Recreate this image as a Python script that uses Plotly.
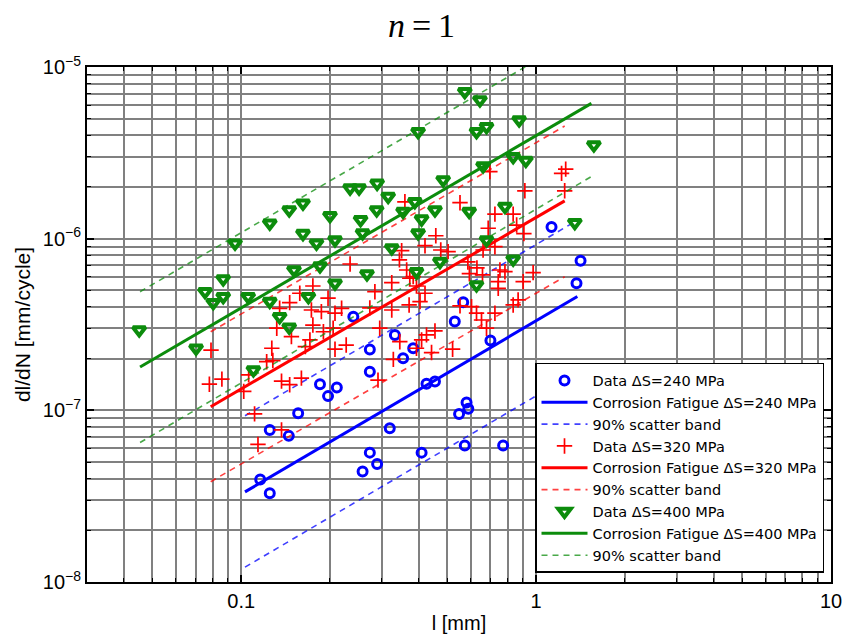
import plotly.graph_objects as go

# Measured crack growth data, crack length l [mm] vs dl/dN [mm/cycle]
l_240 = [0.116, 0.125, 0.125, 0.145, 0.156, 0.185, 0.197, 0.211, 0.240, 0.273,
         0.273, 0.273, 0.258, 0.289, 0.332, 0.383, 0.354, 0.425, 0.454, 0.319,
         0.409, 0.573, 0.773, 0.581, 0.548, 0.589, 0.566, 0.530, 0.700, 1.371,
         1.415, 1.128]
dldn_240 = [3.96e-8, 3.29e-8, 7.69e-8, 7.10e-8, 9.62e-8, 1.42e-7, 1.21e-7, 1.36e-7, 3.51e-7, 2.26e-7,
            1.68e-7, 5.67e-8, 4.40e-8, 4.87e-8, 2.75e-7, 2.30e-7, 2.01e-7, 1.43e-7, 1.47e-7, 7.87e-8,
            5.67e-8, 6.23e-8, 6.23e-8, 1.11e-7, 9.53e-8, 1.02e-7, 4.26e-7, 3.29e-7, 2.55e-7, 5.50e-7,
            7.44e-7, 1.17e-6]

l_320 = [0.175, 0.158, 0.197, 0.146, 0.135, 0.173, 0.187, 0.208, 0.219, 0.132,
         0.148, 0.175, 0.190, 0.205, 0.171, 0.165, 0.208, 0.227, 0.127, 0.079,
         0.122, 0.128, 0.106, 0.086, 0.078, 0.102, 0.137, 0.146, 0.160, 0.111,
         0.137, 0.114, 0.234, 0.324, 0.373, 0.393, 0.420, 0.404, 0.371, 0.324,
         0.284, 0.295, 0.345, 0.328, 0.291, 0.409, 0.425, 0.454, 0.442, 0.393,
         0.521, 0.552, 0.604, 0.628, 0.653, 0.679, 0.725, 0.836, 0.869, 0.744,
         0.744, 0.904, 0.977, 0.784, 0.273, 0.697, 1.22, 1.26, 1.25, 0.916,
         0.359, 0.552, 0.725, 0.836, 0.688, 0.859, 0.909, 0.457, 0.725, 0.420,
         0.475, 0.503, 0.350, 0.344, 0.661, 0.587, 0.630, 0.658, 0.594, 0.754,
         0.364, 0.383]
dldn_320 = [5.30e-7, 4.81e-7, 4.50e-7, 4.24e-7, 3.93e-7, 3.84e-7, 3.76e-7, 3.68e-7, 3.93e-7, 3.01e-7,
            2.69e-7, 3.14e-7, 2.87e-7, 3.01e-7, 2.57e-7, 2.35e-7, 2.27e-7, 2.40e-7, 2.30e-7, 2.24e-7,
            1.92e-7, 1.95e-7, 1.61e-7, 1.52e-7, 1.42e-7, 1.29e-7, 1.48e-7, 1.41e-7, 1.54e-7, 9.53e-8,
            7.69e-8, 6.33e-8, 7.12e-7, 5.54e-7, 5.88e-7, 5.30e-7, 4.81e-7, 4.30e-7, 4.11e-7, 3.84e-7,
            4.91e-7, 3.01e-7, 2.51e-7, 1.98e-7, 1.50e-7, 2.57e-7, 2.75e-7, 2.90e-7, 2.17e-7, 2.30e-7,
            2.27e-7, 4.06e-7, 4.02e-7, 3.68e-7, 3.36e-7, 3.01e-7, 3.68e-7, 4.11e-7, 4.40e-7, 5.14e-7,
            5.62e-7, 5.62e-7, 6.34e-7, 6.42e-7, 3.95e-7, 2.46e-6, 2.40e-6, 2.54e-6, 1.90e-6, 1.90e-6,
            1.64e-6, 1.62e-6, 1.39e-6, 1.39e-6, 1.15e-6, 1.20e-6, 1.07e-6, 1.04e-6, 8.98e-7, 9.10e-7,
            8.59e-7, 8.40e-7, 8.51e-7, 7.52e-7, 8.59e-7, 7.32e-7, 6.75e-7, 6.15e-7, 6.25e-7, 6.57e-7,
            6.57e-7, 6.01e-7]

l_400 = [0.0451, 0.0703, 0.110, 0.0754, 0.0804, 0.0869, 0.0869, 0.1056, 0.125, 0.135,
         0.1455, 0.169, 0.208, 0.151, 0.185, 0.267, 0.0953, 0.125, 0.1455, 0.162,
         0.200, 0.234, 0.251, 0.254, 0.162, 0.180, 0.208, 0.258, 0.573, 0.645,
         0.876, 0.628, 0.679, 0.398, 1.57, 0.836, 0.923, 0.661, 0.484, 0.289,
         0.315, 0.388, 0.354, 0.288, 0.454, 0.409, 0.593, 0.784, 0.398, 0.679,
         1.353, 0.324, 0.472, 0.836, 0.393, 0.628]
dldn_400 = [2.94e-7, 2.30e-7, 1.72e-7, 4.91e-7, 4.24e-7, 4.59e-7, 5.82e-7, 4.59e-7, 4.30e-7, 3.51e-7,
            3.05e-7, 4.59e-7, 5.50e-7, 6.57e-7, 6.93e-7, 6.23e-7, 9.40e-7, 1.23e-6, 1.47e-6, 1.61e-6,
            1.36e-6, 1.97e-6, 1.97e-6, 1.29e-6, 1.07e-6, 9.40e-7, 9.83e-7, 1.08e-6, 7.18e-6, 6.42e-6,
            4.91e-6, 4.20e-6, 4.49e-6, 4.20e-6, 3.51e-6, 3.00e-6, 2.85e-6, 2.65e-6, 2.20e-6, 2.10e-6,
            1.76e-6, 1.64e-6, 1.44e-6, 1.47e-6, 1.47e-6, 1.30e-6, 1.44e-6, 1.54e-6, 1.08e-6, 9.83e-7,
            1.24e-6, 8.83e-7, 7.35e-7, 7.59e-7, 6.42e-7, 5.37e-7]

# Corrosion fatigue model lines (end points) and 90% scatter band limits
fit_l_240 = [0.103, 1.38]
fit_240 = [3.35e-8, 4.60e-7]
band_hi_240 = [9.30e-8, 1.28e-6]
band_lo_240 = [1.22e-8, 1.68e-7]

fit_l_320 = [0.0788, 1.25]
fit_320 = [1.05e-7, 1.66e-6]
band_hi_320 = [2.87e-7, 4.53e-6]
band_lo_320 = [3.84e-8, 6.00e-7]

fit_l_400 = [0.0454, 1.54]
fit_400 = [1.79e-7, 6.14e-6]
band_hi_400 = [4.91e-7, 1.68e-5]
band_lo_400 = [6.49e-8, 2.30e-6]

stress_levels = ["240", "320", "400"]

x_tick_vals = [0.1, 1, 10]
x_tick_text = ["0.1", "1", "10"]
y_tick_vals = [1e-8, 1e-7, 1e-6, 1e-5]
y_tick_text = ["10<sup>\u22128</sup>", "10<sup>\u22127</sup>", "10<sup>\u22126</sup>", "10<sup>\u22125</sup>"]

BLUE = "#0000ff"
RED = "#ff0000"
GREEN = "#0c8c0c"

groups = [
    (stress_levels[0], l_240, dldn_240, fit_l_240, fit_240, band_hi_240, band_lo_240, BLUE,
     dict(symbol="circle-open", size=9, line=dict(width=3, color=BLUE))),
    (stress_levels[1], l_320, dldn_320, fit_l_320, fit_320, band_hi_320, band_lo_320, RED,
     dict(symbol="cross-thin-open", size=11, line=dict(width=1.7, color=RED))),
    (stress_levels[2], l_400, dldn_400, fit_l_400, fit_400, band_hi_400, band_lo_400, GREEN,
     dict(symbol="triangle-down-open", size=11, line=dict(width=4, color=GREEN))),
]

fig = go.Figure()
for ds, lx, ly, fx, fy, bhi, blo, col, mk in groups:
    fig.add_trace(go.Scatter(
        x=lx, y=ly, mode="markers", marker=dict(color=col, **mk),
        name=f"Data \u0394S={ds} MPa"))
    fig.add_trace(go.Scatter(
        x=fx, y=fy, mode="lines", line=dict(color=col, width=3),
        name=f"Corrosion Fatigue \u0394S={ds} MPa"))
    fig.add_trace(go.Scatter(
        x=fx + [None] + fx, y=bhi + [None] + blo, mode="lines",
        line=dict(color=col, width=1.6, dash="6px,5px"),
        opacity=0.75, connectgaps=False,
        name="90% scatter band"))

grid_col = "#808080"
axis_common = dict(
    type="log", showline=True, linecolor="black", linewidth=2, mirror="allticks",
    ticks="inside", ticklen=7, tickwidth=1.5, tickcolor="black",
    showgrid=True, gridcolor=grid_col, gridwidth=1.8,
    tickfont=dict(family="Liberation Sans, Arial, sans-serif", size=20, color="black"),
    minor=dict(dtick="D1", showgrid=True, gridcolor=grid_col, gridwidth=1.8,
               ticks="inside", ticklen=4, tickwidth=1.2, tickcolor="black"),
    zeroline=False, automargin=False,
)

fig.update_layout(
    width=843, height=634,
    margin=dict(l=87, r=12, t=67, b=52),
    paper_bgcolor="white", plot_bgcolor="white",
    title=dict(text="<i>n</i>\u2009=\u20091", x=0.5, xref="container", xanchor="center",
               y=1 - 25 / 634, yref="container", yanchor="middle",
               font=dict(family="Liberation Serif, DejaVu Serif, serif", size=34, color="black")),
    xaxis=dict(axis_common, range=[-1.5229, 1], tickmode="array",
               tickvals=x_tick_vals, ticktext=x_tick_text,
               title=dict(text="l [mm]", standoff=8,
                          font=dict(family="Liberation Sans, Arial, sans-serif", size=20, color="black"))),
    yaxis=dict(axis_common, range=[-8, -5], tickmode="array",
               tickvals=y_tick_vals, ticktext=y_tick_text,
               title=dict(text="dl/dN [mm/cycle]", standoff=6,
                          font=dict(family="Liberation Sans, Arial, sans-serif", size=21, color="black"))),
    legend=dict(x=0.9906, xanchor="right", y=0.0175, yanchor="bottom",
                bgcolor="white", bordercolor="black", borderwidth=1.5,
                font=dict(family="DejaVu Sans, sans-serif", size=14.5, color="black"),
                tracegroupgap=0, itemwidth=46),
    showlegend=True,
)

fig.write_html("out.html")
